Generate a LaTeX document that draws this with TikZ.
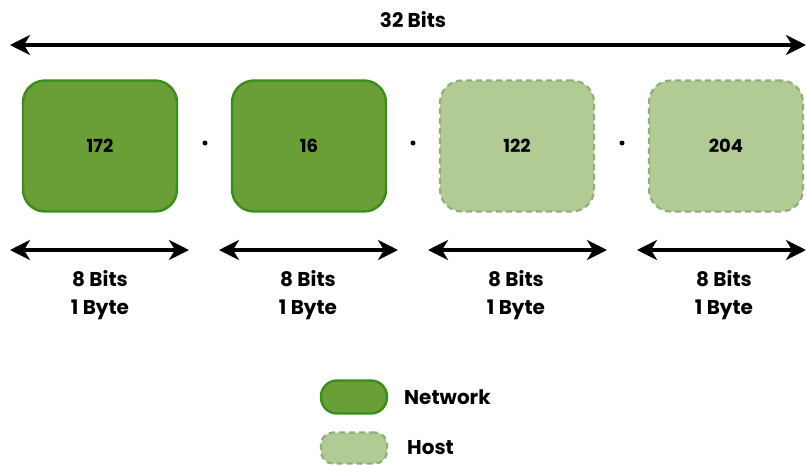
\documentclass[tikz,border=0pt]{standalone}
\usepackage{fontspec}
\setmainfont{Poppins}
\usetikzlibrary{arrows.meta}
\definecolor{netfill}{HTML}{6A9E37}
\definecolor{netline}{HTML}{3A8C1C}
\definecolor{hostfill}{HTML}{B2CB95}
\definecolor{hostline}{HTML}{92AE7C}
\tikzset{
  x=1pt,y=-1pt,
  netbox/.style={draw=netline,fill=netfill,line width=2.4pt,rounded corners=22pt,minimum width=154pt,minimum height=131pt,font=\bfseries\fontsize{18}{20}\selectfont,inner sep=0pt},
  hostbox/.style={draw=hostline,fill=hostfill,line width=2.2pt,dash pattern=on 6pt off 4pt,rounded corners=22pt,minimum width=154pt,minimum height=131pt,font=\bfseries\fontsize{18}{20}\selectfont,inner sep=0pt},
  span/.style={line width=4pt,{Stealth[length=20pt,width=20pt,inset=6pt]}-{Stealth[length=20pt,width=20pt,inset=6pt]}},
  lbl/.style={font=\bfseries\fontsize{20}{28}\selectfont,align=center,inner sep=0pt},
  sep/.style={circle,fill=black,minimum size=5pt,inner sep=0pt},
}
\begin{document}
\begin{tikzpicture}
\useasboundingbox (0,0) rectangle (806,464);
% top span
\coordinate (tl) at (10,45);
\coordinate (tr) at (806,45);
\draw[span] (tl) -- (tr);
\node[lbl] (top) at (413,20) {32 Bits};
% boxes
\node[netbox] (b1) at (100,146) {172};
\node[netbox] (b2) at (309,146) {16};
\node[hostbox] (b3) at (517,146) {122};
\node[hostbox] (b4) at (726,146) {204};
\node[sep] (d1) at (205,143) {};
\node[sep] (d2) at (413,143) {};
\node[sep] (d3) at (622,143) {};
% byte spans
\coordinate (a1l) at (10,250); \coordinate (a1r) at (189,250);
\coordinate (a2l) at (219,250); \coordinate (a2r) at (398,250);
\coordinate (a3l) at (428,250); \coordinate (a3r) at (607,250);
\coordinate (a4l) at (637,250); \coordinate (a4r) at (806,250);
\draw[span] (a1l) -- (a1r);
\draw[span] (a2l) -- (a2r);
\draw[span] (a3l) -- (a3r);
\draw[span] (a4l) -- (a4r);
\node[lbl] (l1) at (100,295) {8 Bits\\1 Byte};
\node[lbl] (l2) at (308,295) {8 Bits\\1 Byte};
\node[lbl] (l3) at (516,295) {8 Bits\\1 Byte};
\node[lbl] (l4) at (724,295) {8 Bits\\1 Byte};
% legend
\node[draw=netline,fill=netfill,line width=2.4pt,rounded corners=16pt,minimum width=66pt,minimum height=33pt] (ln) at (354,397) {};
\node[draw=hostline,fill=hostfill,line width=2.2pt,dash pattern=on 6pt off 4pt,rounded corners=12pt,minimum width=66pt,minimum height=31pt] (lh) at (354,448) {};
\node[lbl,anchor=west] (tn) at (404,397) {Network};
\node[lbl,anchor=west] (th) at (407,448) {Host};
\end{tikzpicture}
\end{document}
